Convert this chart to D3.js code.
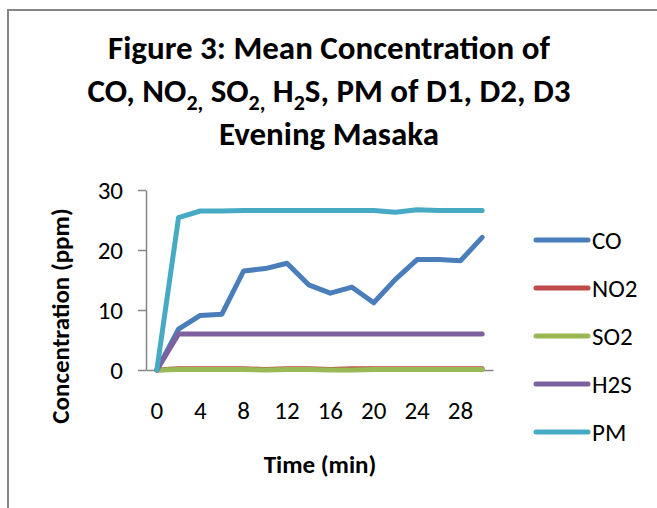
<!DOCTYPE html>
<html>
<head>
<meta charset="utf-8">
<script src="https://cdn.jsdelivr.net/npm/d3@7"></script>
<style>
  html, body { margin: 0; padding: 0; background: #fff; }
  svg { display: block; font-family: Calibri, Carlito, Lato, sans-serif; }
</style>
</head>
<body>
<div id="chart"></div>
<script>
/* Mean concentration, evening Masaka — line chart, one point every 2 min */

var times = [0, 2, 4, 6, 8, 10, 12, 14, 16, 18, 20, 22, 24, 26, 28, 30];
var tickTimes = [0, 4, 8, 12, 16, 20, 24, 28];
var yTicks = [0, 10, 20, 30];

var seriesNames = ['CO', 'NO2', 'SO2', 'H2S', 'PM'];
var coVals  = [0, 6.8, 9.1, 9.3, 16.5, 16.9, 17.8, 14.2, 12.8, 13.8, 11.2, 15.1, 18.4, 18.4, 18.2, 22.1];
var no2Vals = [0, 0.2, 0.2, 0.2, 0.2, 0.1, 0.2, 0.2, 0.1, 0.2, 0.2, 0.2, 0.2, 0.2, 0.2, 0.2];
var so2Vals = [0, 0.1, 0.1, 0.1, 0.1, 0.0, 0.1, 0.1, 0.0, 0.0, 0.1, 0.1, 0.1, 0.1, 0.1, 0.1];
var h2sVals = [0, 6.0, 6.0, 6.0, 6.0, 6.0, 6.0, 6.0, 6.0, 6.0, 6.0, 6.0, 6.0, 6.0, 6.0, 6.0];
var pmVals  = [0, 25.4, 26.5, 26.5, 26.6, 26.6, 26.6, 26.6, 26.6, 26.6, 26.6, 26.3, 26.7, 26.6, 26.6, 26.6];

(function drawChart() {
  var W = 657, H = 508;
  var svg = d3.select('#chart').append('svg')
    .attr('width', W).attr('height', H);

  var axisColor = '#868686';
  var colors = ['#4a7ebb', '#be4b48', '#98b954', '#7d60a0', '#46aac5'];
  var values = [coVals, no2Vals, so2Vals, h2sVals, pmVals];

  /* chart area border (runs off the right and bottom of the picture) */
  svg.append('rect')
    .attr('x', 8).attr('y', 10)
    .attr('width', W + 20).attr('height', H + 20)
    .attr('fill', 'none').attr('stroke', axisColor).attr('stroke-width', 2);

  /* title — subscripts (and the commas after them) sit low */
  var title = [
    [['Figure 3: Mean Concentration of', 0]],
    [['CO, NO', 0], ['2,', 1], [' SO', 0], ['2,', 1], [' H', 0], ['2', 1], ['S, PM of D1, D2, D3', 0]],
    [['Evening Masaka', 0]]
  ];
  var titleY = [59, 102, 145];
  var subDy = 8;
  title.forEach(function (parts, i) {
    var tx = svg.append('text')
      .attr('x', 329).attr('y', titleY[i])
      .attr('text-anchor', 'middle')
      .attr('font-size', 33).attr('font-weight', 'bold').attr('fill', '#000');
    var low = 0;
    parts.forEach(function (p) {
      var ts = tx.append('tspan').text(p[0]);
      var dy = (p[1] ? subDy : 0) - low;
      if (dy) ts.attr('dy', dy);
      if (p[1]) ts.attr('font-size', 22);
      low = p[1] ? subDy : 0;
    });
  });

  /* scales */
  var x = d3.scaleBand().domain(times).range([146, 493]).padding(0);
  var y = d3.scaleLinear().domain([0, 30]).range([370, 190]);
  var cx = function (t) { return x(t) + x.bandwidth() / 2; };

  /* y axis */
  var yAxis = svg.append('g')
    .attr('transform', 'translate(146,0)')
    .call(d3.axisLeft(y).tickValues(yTicks).tickSize(8).tickSizeOuter(0).tickPadding(15));
  yAxis.attr('font-family', null);
  yAxis.select('.domain').attr('stroke', axisColor).attr('stroke-width', 1.5);
  yAxis.selectAll('.tick line').attr('stroke', axisColor).attr('stroke-width', 1.5);
  yAxis.selectAll('.tick text')
    .attr('font-size', 25).attr('fill', '#000');

  /* x axis */
  var xAxis = svg.append('g')
    .attr('transform', 'translate(0,370)')
    .call(d3.axisBottom(x).tickValues(tickTimes).tickSize(0).tickSizeOuter(0).tickPadding(31));
  xAxis.attr('font-family', null);
  xAxis.select('.domain').attr('stroke', axisColor).attr('stroke-width', 1.5);
  xAxis.selectAll('.tick text')
    .attr('font-size', 25).attr('fill', '#000');

  /* lines */
  var line = d3.line()
    .x(function (d, i) { return cx(times[i]); })
    .y(function (d) { return y(d); });

  values.forEach(function (vals, k) {
    svg.append('path')
      .datum(vals)
      .attr('d', line)
      .attr('fill', 'none')
      .attr('stroke', colors[k])
      .attr('stroke-width', 5)
      .attr('stroke-linejoin', 'round')
      .attr('stroke-linecap', 'round');
  });

  /* axis titles */
  svg.append('text')
    .attr('transform', 'translate(69,316) rotate(-90)')
    .attr('text-anchor', 'middle')
    .attr('font-size', 25).attr('font-weight', 'bold')
    .text('Concentration (ppm)');

  svg.append('text')
    .attr('x', 320).attr('y', 473)
    .attr('text-anchor', 'middle')
    .attr('font-size', 25).attr('font-weight', 'bold')
    .text('Time (min)');

  /* legend */
  var legY = [240, 288, 336, 384, 432];
  seriesNames.forEach(function (name, k) {
    svg.append('line')
      .attr('x1', 536).attr('y1', legY[k])
      .attr('x2', 588).attr('y2', legY[k])
      .attr('stroke', colors[k]).attr('stroke-width', 5)
      .attr('stroke-linecap', 'round');
    svg.append('text')
      .attr('x', 592).attr('y', legY[k] + 9)
      .attr('font-size', 25).attr('fill', '#000')
      .text(name);
  });
}());
</script>
</body>
</html>
